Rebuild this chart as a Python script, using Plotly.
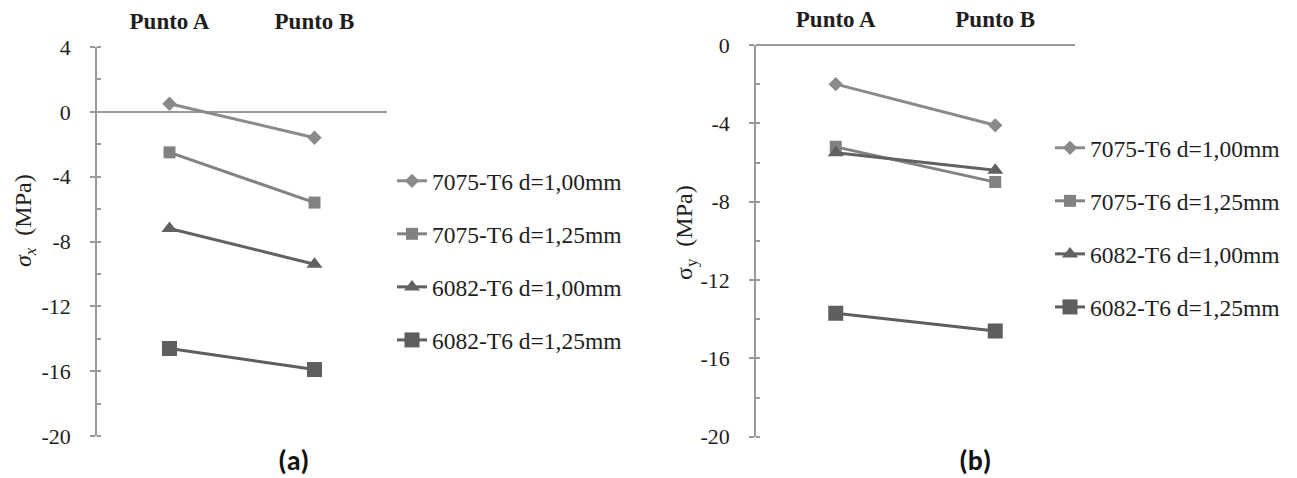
import plotly.graph_objects as go

categories = ["Punto A", "Punto B"]
series_names = ["7075-T6 d=1,00mm", "7075-T6 d=1,25mm", "6082-T6 d=1,00mm", "6082-T6 d=1,25mm"]
sigma_x = [
    [0.5, -1.6],
    [-2.5, -5.6],
    [-7.2, -9.4],
    [-14.6, -15.9],
]
sigma_y = [
    [-2.0, -4.1],
    [-5.2, -7.0],
    [-5.5, -6.4],
    [-13.7, -14.6],
]
yticks_a = [4, 0, -4, -8, -12, -16, -20]
yticks_b = [0, -4, -8, -12, -16, -20]

colors = ["#8a8a8a", "#828282", "#616161", "#5e5e5e"]
symbols = ["diamond", "square", "triangle-up", "square"]
sizes = [11, 12, 14, 15]

fig = go.Figure()
for i, name in enumerate(series_names):
    fig.add_trace(go.Scatter(
        x=categories, y=sigma_x[i], name=name, mode="lines+markers",
        line=dict(color=colors[i], width=3),
        marker=dict(symbol=symbols[i], size=sizes[i], color=colors[i]),
        xaxis="x", yaxis="y", legend="legend", legendgroup="a%d" % i,
    ))
for i, name in enumerate(series_names):
    fig.add_trace(go.Scatter(
        x=categories, y=sigma_y[i], name=name, mode="lines+markers",
        line=dict(color=colors[i], width=3),
        marker=dict(symbol=symbols[i], size=sizes[i], color=colors[i]),
        xaxis="x2", yaxis="y2", legend="legend2", legendgroup="b%d" % i,
    ))

H = 478.0
W = 1297.0
serif = "Liberation Serif, Times New Roman, Times, serif"
axcol = "#9a9a9a"
txt = "#1e1e1e"

def xaxis(dom, anchor):
    return dict(domain=dom, anchor=anchor, type="category", categoryarray=categories,
                range=[-0.5, 1.5], side="top", showline=False, showgrid=False,
                zeroline=False, ticks="", ticklabelstandoff=12, automargin=False,
                tickprefix="<b>", ticksuffix="</b>",
                tickfont=dict(family=serif, size=23, color=txt))

def yaxis(dom, anchor, rng, tv, standoff):
    return dict(domain=dom, anchor=anchor, range=rng, tickvals=tv,
                ticktext=[str(v) for v in tv], automargin=False,
                showline=True, linecolor=axcol, linewidth=1.5,
                ticks="outside", ticklen=5, tickcolor=axcol, tickwidth=1.5,
                minor=dict(dtick=2, ticks="inside", ticklen=4, tickcolor=axcol, tickwidth=1.5, showgrid=False),
                showgrid=False, zeroline=True, zerolinecolor=axcol, zerolinewidth=1.5,
                ticklabelstandoff=standoff,
                tickfont=dict(family=serif, size=22, color=txt))

fig.update_layout(
    width=1297, height=478,
    margin=dict(l=0, r=0, t=0, b=0, autoexpand=False),
    paper_bgcolor="white", plot_bgcolor="white",
    xaxis=xaxis([97 / W, 387 / W], "y"),
    yaxis=yaxis([(H - 436) / H, (H - 47) / H], "x", [-20, 4], yticks_a, 15),
    xaxis2=xaxis([756 / W, 1075 / W], "y2"),
    yaxis2=yaxis([(H - 436.7) / H, (H - 45) / H], "x2", [-20, 0], yticks_b, 15),
    legend=dict(x=392 / W, y=(H - 159) / H, xanchor="left", yanchor="top",
                font=dict(family=serif, size=23.5, color=txt),
                tracegroupgap=19.5, traceorder="grouped", itemwidth=30,
                bgcolor="rgba(0,0,0,0)"),
    legend2=dict(x=1050 / W, y=(H - 126) / H, xanchor="left", yanchor="top",
                 font=dict(family=serif, size=23.5, color=txt),
                 tracegroupgap=19.5, traceorder="grouped", itemwidth=30,
                 bgcolor="rgba(0,0,0,0)"),
    annotations=[
        dict(text="<i>σ<sub>x</sub></i>  (MPa)", x=25 / W, y=(H - 221) / H, xref="paper", yref="paper",
             xanchor="center", yanchor="middle",
             textangle=-90, showarrow=False, font=dict(family=serif, size=24, color=txt)),
        dict(text="σ<sub>y</sub>  (MPa)", x=686 / W, y=(H - 232) / H, xref="paper", yref="paper",
             xanchor="center", yanchor="middle",
             textangle=-90, showarrow=False, font=dict(family=serif, size=24, color=txt)),
        dict(text="<b>(a)</b>", x=293 / W, y=(H - 460) / H, xref="paper", yref="paper",
             xanchor="center", yanchor="middle",
             showarrow=False, font=dict(family="Carlito, Lato, Liberation Sans", size=28, color="#111")),
        dict(text="<b>(b)</b>", x=975 / W, y=(H - 460) / H, xref="paper", yref="paper",
             xanchor="center", yanchor="middle",
             showarrow=False, font=dict(family="Carlito, Lato, Liberation Sans", size=28, color="#111")),
    ],
)

fig.write_html("out.html", config={"displayModeBar": False},
               post_script="document.body.style.margin='0px';")
